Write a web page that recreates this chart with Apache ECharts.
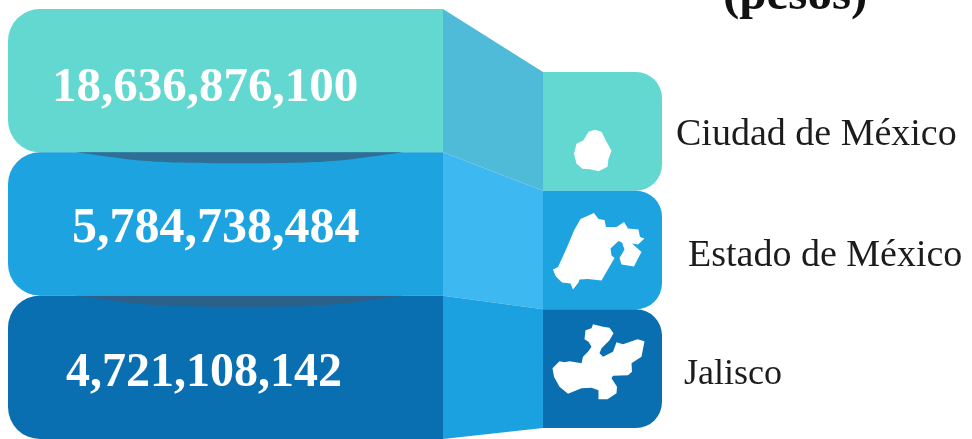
<!DOCTYPE html>
<html>
<head>
<meta charset="utf-8">
<title>Recaudación por entidad</title>
<script src="https://cdn.jsdelivr.net/npm/echarts@6/dist/echarts.min.js"></script>
<style>
  html, body { margin: 0; padding: 0; background: #fff; }
  #chart { width: 972px; height: 439px; overflow: hidden; }
</style>
</head>
<body>
<div id="chart"></div>
<script>
const regions = ['Ciudad de México', 'Estado de México', 'Jalisco'];
const amounts = [18636876100, 5784738484, 4721108142];

const rowColors = ['#63d8d1', '#1ca3e0', '#0a6fb1'];
const linkColors = ['#50bbd9', '#3db8f0', '#1ba0e0'];
const shadowColors = [null, '#2f6f95', '#2d6088'];

// where the texts sit, the original layout is hand placed
const amountLeft = [52, 72, 66];
const amountShift = [8, 5, 6];
const amountSize = [49, 50, 48];
const nameLeft = [676, 688, 684];
const nameShift = [4, 6, 6];
const nameSize = [38, 38, 36];

// state outlines, px offsets from the tile centre
const outlines = [
  [[-7.5,-1.5],[-1,.5],[4,10.5],[9,19.5],[6,27.5],[5,35.5],[-4,40],[-12.5,38],[-20,37.5],[-26,32.5],[-28.5,22.5],[-26,12.5],[-19,9],[-14,.5]],
  [[-22,-31],[-8.5,-37],[-4,-31],[2,-30],[3.5,-23],[14,-23],[21.5,-28],[25.5,-21.5],[36,-20.5],[37.5,-13],[42,-11.5],[35.5,-5.5],[29.5,-6.5],[39,2],[35.5,8.5],[31.5,16.5],[19,14.5],[17,8],[22,-.5],[19.5,-7.5],[16,-9],[8,-1.5],[9,5.5],[12,8],[-1,30.5],[-14.5,29],[-23,29.5],[-24,32.5],[-29.5,39.5],[-32,33.5],[-40.5,32.5],[-47,26],[-49.5,19.5],[-44.5,17],[-36,-1.5],[-28.5,-19.5]],
  [[-9.5,-44.5],[.5,-42],[7,-41],[11,-35.5],[7,-28.5],[-1,-20.5],[-3,-15.5],[.5,-12],[10.5,-17],[14,-26.5],[20.5,-24.5],[35,-29.5],[42,-27.5],[39,-12],[29,-5.5],[29.5,3],[25.5,6.5],[10.5,7],[9,9.5],[14.5,18],[14,24.5],[5,30.5],[-4,30.5],[-4,21.5],[-11,19],[-21,19.5],[-34.5,25],[-43,18],[-48.5,8],[-50,-.5],[-43,-7.5],[-38,-6.5],[-33,-7.5],[-21,-5.5],[-19.5,-12],[-14.5,-17],[-11,-22],[-14,-27],[-18,-29.5],[-17,-38.5],[-11,-40.5]]
];

const rowGrid = { left: 8, top: 9, width: 435, height: 432 };
const tileGrid = { left: 543, top: 72, width: 119, height: 356 };
const serif = '"Liberation Serif", serif';

const seriesData = regions.map((r, i) => ({ value: [i, amounts[i]] }));

function band(api, i) {
  const a = api.coord([0, i]);
  const b = api.coord([1, i]);
  const h = api.size([0, 1])[1];
  return { x0: a[0], x1: b[0], y0: a[1] - h / 2, y1: a[1] + h / 2, cy: a[1], h };
}

function renderRow(params, api) {
  const i = params.dataIndex;
  const b = band(api, i);
  return {
    type: 'group',
    children: [
      {
        type: 'rect',
        shape: { x: b.x0, y: b.y0, width: b.x1 - b.x0, height: b.h, r: [32, 0, 0, 32] },
        style: { fill: rowColors[i] }
      },
      {
        type: 'text',
        style: {
          x: amountLeft[i], y: b.cy + amountShift[i],
          text: amounts[i].toLocaleString('en-US'),
          fill: '#fff', font: 'bold ' + amountSize[i] + 'px ' + serif,
          textAlign: 'left', textVerticalAlign: 'middle'
        }
      }
    ]
  };
}

function renderShadow(params, api) {
  const i = params.dataIndex;
  if (!shadowColors[i]) return null;
  const b = band(api, i);
  const l = b.x0 + 68, r = b.x0 + 395, c = (l + r) / 2, t = b.y0;
  return {
    type: 'path',
    shape: {
      pathData: `M${l} ${t} C${l + 60} ${t + 8} ${c - 100} ${t + 11} ${c} ${t + 11} C${c + 100} ${t + 11} ${r - 60} ${t + 8} ${r} ${t} Z`,
      layout: 'none'
    },
    style: { fill: shadowColors[i] }
  };
}

function renderLink(params, api) {
  const i = params.dataIndex;
  const b = band(api, i);
  const tileH = tileGrid.height / regions.length;
  const top = tileGrid.top + i * tileH;
  return {
    type: 'polygon',
    shape: { points: [[b.x1, b.y0], [tileGrid.left, top], [tileGrid.left, top + tileH], [b.x1, b.y1]] },
    style: { fill: linkColors[i] }
  };
}

function renderTile(params, api) {
  const i = params.dataIndex;
  const b = band(api, i);
  const cx = (b.x0 + b.x1) / 2;
  return {
    type: 'group',
    children: [
      {
        type: 'rect',
        shape: { x: b.x0, y: b.y0, width: b.x1 - b.x0, height: b.h, r: [0, 26, 26, 0] },
        style: { fill: rowColors[i] }
      },
      {
        type: 'polygon',
        shape: { points: outlines[i].map(p => [cx + p[0], b.cy + p[1]]) },
        style: { fill: '#fff' }
      },
      {
        type: 'text',
        style: {
          x: nameLeft[i], y: b.cy + nameShift[i],
          text: regions[i],
          fill: '#1c1c1c', font: nameSize[i] + 'px ' + serif,
          textAlign: 'left', textVerticalAlign: 'middle'
        }
      }
    ]
  };
}

const chart = echarts.init(document.getElementById('chart'));

chart.setOption({
  animation: false,
  backgroundColor: '#fff',
  title: {
    text: '(pesos)',
    left: 718,
    top: -33,
    textStyle: { fontFamily: serif, fontSize: 49, fontWeight: 'bold', color: '#111' }
  },
  grid: [rowGrid, tileGrid],
  xAxis: [
    { gridIndex: 0, type: 'value', min: 0, max: 1, show: false },
    { gridIndex: 1, type: 'value', min: 0, max: 1, show: false }
  ],
  yAxis: [
    { gridIndex: 0, type: 'category', inverse: true, data: regions, show: false },
    { gridIndex: 1, type: 'category', inverse: true, data: regions, show: false }
  ],
  series: [
    { type: 'custom', xAxisIndex: 0, yAxisIndex: 0, z: 2, clip: false, encode: { y: 0 }, data: seriesData, renderItem: renderLink },
    { type: 'custom', xAxisIndex: 0, yAxisIndex: 0, z: 3, clip: false, encode: { y: 0 }, data: seriesData, renderItem: renderRow },
    { type: 'custom', xAxisIndex: 0, yAxisIndex: 0, z: 4, clip: false, encode: { y: 0 }, data: seriesData, renderItem: renderShadow },
    { type: 'custom', xAxisIndex: 1, yAxisIndex: 1, z: 5, clip: false, encode: { y: 0 }, data: seriesData, renderItem: renderTile }
  ]
});
</script>
</body>
</html>
